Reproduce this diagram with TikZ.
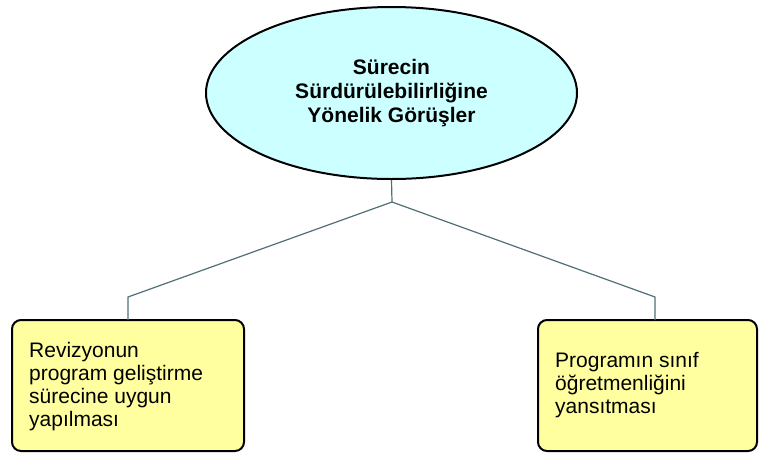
\documentclass[tikz,border=0pt]{standalone}
\usepackage{fontspec}
\setmainfont{Liberation Sans}
\usetikzlibrary{shapes.geometric}
\definecolor{boxfill}{RGB}{255,255,160}
\definecolor{ellfill}{RGB}{204,255,255}
\definecolor{linkc}{RGB}{80,110,120}
\tikzset{
  topell/.style={ellipse, draw=black, line width=2pt, fill=ellfill, minimum width=371pt, minimum height=172pt, inner sep=0pt, align=center, font=\fontsize{21}{24}\selectfont\bfseries},
  leafbox/.style={draw=black, line width=2pt, fill=boxfill, rounded corners=9pt},
  leaftext/.style={inner sep=0pt, align=left, font=\fontsize{21}{23}\selectfont},
  link/.style={draw=linkc, line width=1.2pt}
}
\begin{document}
\begin{tikzpicture}[x=1pt,y=-1pt]
\useasboundingbox (0,0) rectangle (761,456);
\node[topell] (root) at (391.5,93) {Sürecin\\Sürdürülebilirliğine\\Yönelik Görüşler};
\path[leafbox] (12,320) rectangle (244,451);
\path[leafbox] (538,320) rectangle (757,451);
\node[leaftext, anchor=north west] (lt) at (29,342) {Revizyonun\\program geliştirme\\sürecine uygun\\yapılması};
\node[leaftext, anchor=north west] (rt) at (555,352) {Programın sınıf\\öğretmenliğini\\yansıtması};
\coordinate (left) at (128,320);
\coordinate (right) at (655,320);
\coordinate (j) at (392,202);
\draw[link] (root.south) -- (j) -- (128,297) -- (left);
\draw[link] (j) -- (655,297) -- (right);
\end{tikzpicture}
\end{document}
